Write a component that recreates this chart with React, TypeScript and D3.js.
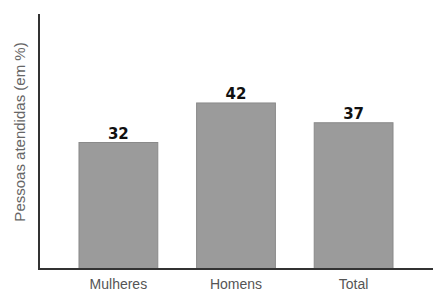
import React, { useRef, useEffect } from 'react';
import * as d3 from 'd3';

const categories = ['Mulheres', 'Homens', 'Total'];
const values = [32, 42, 37];
const yLabel = 'Pessoas atendidas (em %)';

const App = () => {
  const svgRef = useRef<SVGSVGElement>(null);
  const width = 433;
  const height = 291;

  useEffect(() => {
    const svg = d3.select(svgRef.current);
    svg.selectAll('*').remove();

    const x0 = 39;
    const yBase = 269;

    const xScale = d3
      .scaleBand()
      .domain(categories)
      .range([x0, width])
      .paddingInner(0.33)
      .paddingOuter(0.34);

    const yScale = d3.scaleLinear().domain([0, 64]).range([yBase, 16]);

    // bars
    svg
      .selectAll('.bar')
      .data(values)
      .enter()
      .append('rect')
      .attr('x', (d, i) => xScale(categories[i]))
      .attr('y', d => yScale(d))
      .attr('width', xScale.bandwidth())
      .attr('height', d => yBase - yScale(d))
      .attr('fill', '#9b9b9b')
      .attr('stroke', '#8a8a8a')
      .attr('stroke-width', 1);

    // value labels
    svg
      .selectAll('.val')
      .data(values)
      .enter()
      .append('text')
      .attr('x', (d, i) => xScale(categories[i]) + xScale.bandwidth() / 2)
      .attr('y', d => yScale(d) - 4)
      .attr('text-anchor', 'middle')
      .attr('font-family', 'DejaVu Sans')
      .attr('font-weight', 'bold')
      .attr('font-size', '15px')
      .attr('fill', '#111')
      .text(d => d);

    // category labels
    svg
      .selectAll('.cat')
      .data(categories)
      .enter()
      .append('text')
      .attr('x', d => xScale(d) + xScale.bandwidth() / 2)
      .attr('y', 289)
      .attr('text-anchor', 'middle')
      .attr('font-family', 'Liberation Sans')
      .attr('font-size', '14px')
      .attr('fill', '#555')
      .text(d => d);

    // axes
    svg
      .append('line')
      .attr('x1', x0)
      .attr('x2', x0)
      .attr('y1', 14)
      .attr('y2', yBase)
      .attr('stroke', '#333')
      .attr('stroke-width', 2);

    svg
      .append('line')
      .attr('x1', x0 - 1)
      .attr('x2', width)
      .attr('y1', yBase)
      .attr('y2', yBase)
      .attr('stroke', '#333')
      .attr('stroke-width', 2);

    // y label
    svg
      .append('text')
      .attr('transform', 'rotate(-90)')
      .attr('x', -132)
      .attr('y', 25)
      .attr('text-anchor', 'middle')
      .attr('font-family', 'Liberation Sans')
      .attr('font-size', '15px')
      .attr('fill', '#666')
      .text(yLabel);
  }, []);

  return (
    <svg
      ref={svgRef}
      width={width}
      height={height}
      style={{ position: 'absolute', left: 0, top: 0, background: '#fff' }}
    />
  );
};

export default App;
